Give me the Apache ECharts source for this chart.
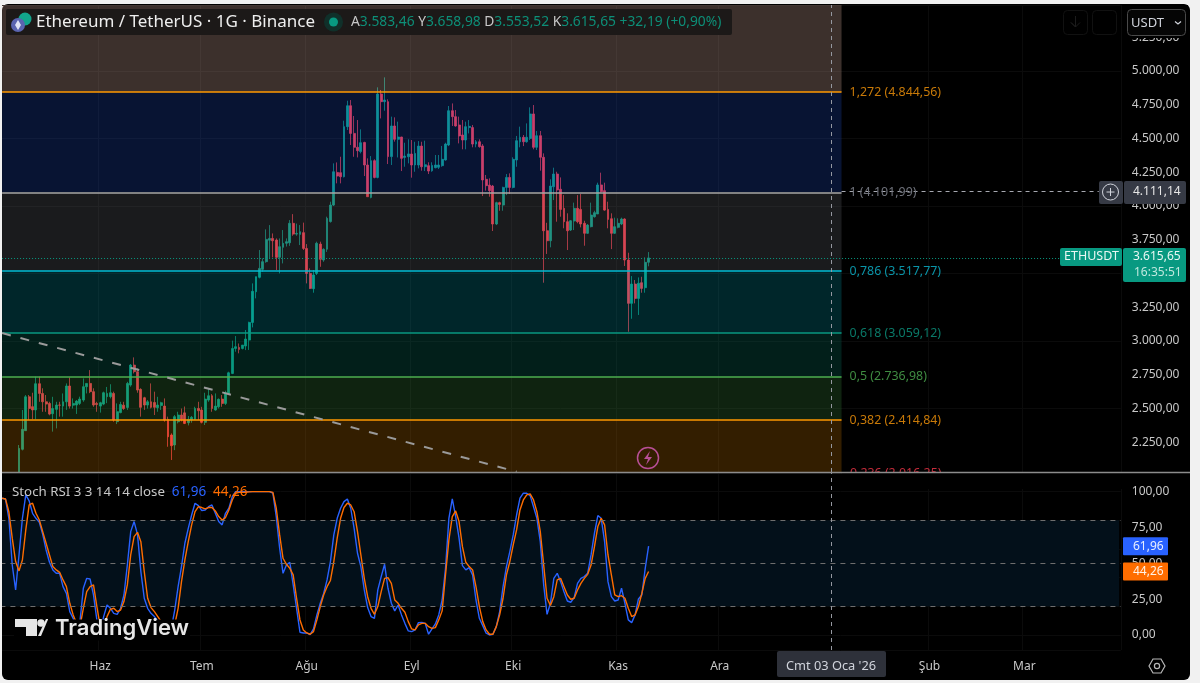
<!DOCTYPE html>
<html>
<head>
<meta charset="utf-8">
<title>ETHUSDT</title>
<script src="https://cdn.jsdelivr.net/npm/echarts@6/dist/echarts.min.js"></script>
<style>
html, body { margin: 0; padding: 0; background: #f1f1f1; overflow: hidden; }
#card { position: absolute; left: 2px; top: 4px; width: 1188px; height: 676px; background: #000; border-radius: 6px; }
#main { position: absolute; left: 0; top: 0; width: 1200px; height: 683px; }
</style>
</head>
<body>
<div id="card"></div>
<div id="main"></div>
<script>
// gunluk mumlar, 8 May - 10 Kas: [acilis, kapanis, dusuk, yuksek]
// ilk mum panelin altindan tasiyor, gorunen kismi kadar okundu
var candles = [
	[2030,2205,2030,2230],[2198,2346,2190,2489],[2336,2587,2336,2600],[2587,2501,2415,2600],[2514,2490,2420,2617],
	[2490,2684,2420,2736],[2684,2612,2550,2736],[2612,2550,2476,2650],[2550,2533,2476,2600],[2538,2459,2450,2550],
	[2462,2500,2329,2587],[2494,2526,2353,2550],[2526,2525,2440,2550],[2518,2550,2440,2612],[2550,2667,2490,2686],
	[2667,2518,2500,2730],[2525,2538,2500,2575],[2526,2555,2460,2563],[2538,2570,2526,2588],[2563,2662,2550,2723],
	[2662,2686,2612,2686],[2686,2625,2614,2785],[2625,2526,2513,2650],[2538,2530,2476,2550],
	[2518,2543,2470,2550],[2533,2617,2525,2625],[2588,2612,2540,2660],[2588,2617,2575,2680],[2612,2415,2403,2625],
	[2403,2477,2385,2538],[2470,2530,2465,2550],[2525,2500,2490,2550],[2508,2686,2490,2698],[2674,2822,2662,2830],
	[2822,2773,2760,2879],[2773,2637,2617,2797],[2642,2509,2440,2650],[2580,2526,2490,2587],[2526,2550,2500,2563],
	[2550,2509,2501,2686],[2545,2509,2452,2625],[2506,2526,2476,2587],[2523,2543,2490,2550],[2518,2415,2403,2575],
	[2420,2291,2217,2440],[2304,2225,2119,2316],[2230,2440,2192,2452],[2402,2452,2390,2476],[2452,2415,2405,2500],
	[2468,2390,2385,2515],[2395,2420,2375,2445],[2415,2435,2395,2445],[2420,2501,2415,2513],[2501,2484,2415,2550],
	[2489,2398,2390,2513],[2398,2570,2378,2617],[2563,2595,2550,2650],[2595,2501,2476,2607],[2489,2518,2484,2612],
	[2513,2568,2501,2575],[2570,2538,2513,2600],[2538,2617,2526,2632],[2607,2765,2600,2773],[2760,2945,2755,3003],
	[2945,2958,2921,3037],[2953,2938,2909,2982],[2945,2970,2938,2970],[2963,3015,2933,3082],[3007,3138,2934,3143],
	[3138,3368,3101,3427],[3365,3477,3316,3477],[3472,3538,3464,3674],[3531,3588,3513,3612],[3588,3753,3580,3827],
	[3747,3760,3612,3859],[3760,3743,3620,3797],[3748,3620,3526,3760],[3620,3699,3501,3760],[3694,3724,3575,3822],
	[3724,3736,3700,3760],[3728,3872,3705,3896],[3872,3792,3780,3940],[3792,3797,3780,3870],[3790,3810,3711,3859],
	[3803,3686,3674,3877],
	[3686,3501,3427,3718],[3501,3390,3385,3538],[3388,3489,3358,3526],[3501,3724,3489,3736],[3718,3605,3550,3736],
	[3600,3679,3587,3687],[3680,3909,3660,3921],[3885,4007,3877,4032],[4007,4254,4000,4316],[4249,4222,4168,4323],
	[4247,4217,4168,4365],[4217,4588,4212,4632],[4588,4743,4563,4780],[4743,4538,4452,4785],[4538,4435,4365,4667],
	[4435,4410,4360,4637],[4403,4469,4390,4568],[4471,4304,4222,4476],[4304,4069,4069,4353],[4064,4336,4057,4370],
	[4336,4212,4205,4346],[4212,4830,4205,4879],[4830,4773,4649,4859],[4773,4785,4706,4953],[4773,4366,4311,4790],
	[4366,4593,4304,4662],[4593,4494,4477,4657],[4494,4511,4360,4625],[4511,4353,4259,4513],[4360,4370,4291,4469],
	[4365,4386,4316,4494],
	[4385,4304,4210,4489],[4304,4390,4254,4476],[4304,4444,4279,4481],[4444,4291,4262,4476],[4291,4306,4259,4484],
	[4299,4259,4237,4324],[4261,4301,4254,4324],[4284,4304,4279,4378],[4287,4304,4274,4378],[4299,4346,4291,4445],
	[4341,4459,4336,4469],[4452,4706,4444,4741],[4706,4662,4593,4760],[4662,4593,4588,4711],[4600,4519,4464,4662],
	[4526,4489,4420,4637],[4489,4588,4420,4625],[4581,4590,4538,4637],[4581,4459,4435,4600],[4459,4476,4435,4489],
	[4476,4440,4432,4494],[4445,4193,4074,4459],[4198,4151,4114,4230],[4155,4114,4069,4205],[4148,3867,3815,4156],
	[3867,4025,3859,4032],[4025,4012,3965,4032],[4007,4138,3965,4143],[4138,4212,4081,4237],[4212,4138,4089,4242],
	[4138,4346,4131,4361],[4341,4484,4291,4519],[4476,4509,4435,4588],[4509,4476,4444,4526],[4476,4509,4469,4612],
	[4501,4682,4489,4731],[4682,4435,4420,4748],[4435,4521,4415,4556],[4521,4361,4262,4556],[4361,3817,3432,4390],
	[3817,3743,3645,3876],[3743,4148,3694,4198],[4143,4237,4044,4284],[4237,4119,3884,4254],[4124,3975,3921,4212],
	[3983,3884,3835,4081],[3884,3817,3674,3946],[3822,3891,3815,3896],[3889,3983,3822,4025],[3983,3884,3872,4081],
	[3975,3867,3842,4089],[3872,3798,3706,3891],[3798,3859,3793,3867],[3847,3933,3842,4025],[3921,3951,3914,3965],
	[3941,4156,3941,4173],[4156,4106,4099,4247],[4114,3970,3965,4173],[3975,3901,3835,4032],[3906,3798,3681,3946],
	[3798,3847,3793,3914],
	[3842,3872,3835,3909],[3867,3904,3859,3914],[3904,3600,3556,3909],[3600,3279,3069,3654],[3279,3422,3165,3481],
	[3422,3316,3279,3452],[3316,3428,3193,3471],[3432,3390,3358,3476],[3395,3583,3358,3620],[3583.46,3615.65,3553.52,3658.98]
];

// Stoch RSI, 3 May - 10 Kas
var stochK = [
	95.4,94.9,81.4,48.8,31.4,55.8,81.4,97.7,93.5,84.9,81.4,78.6,70.2,59.3,50.7,45.4,43,43,33.7,29,
	16.3,11.6,4.6,9.3,32.6,39.5,39,27.9,10.5,1.2,12.8,20.9,18.6,15.1,14.4,18.6,27.9,48.8,72.1,79.1,
	70.2,44.2,25.6,18.6,15.1,12.8,9.8,4.6,1.2,1.2,4.6,17.4,33.7,47.7,64,74.4,83.7,91.9,90.2,86.8,
	87.2,89.5,90.7,84.9,79.1,76.8,84.9,88.4,96.5,100,100,100,100,100,100,100,100,100,100,100,
	98.9,82.6,60.5,43,48.8,50.7,34.9,18.6,1.9,1.4,1.4,0.2,4.2,14,22.1,29,38.4,51.2,69.8,81.4,
	88.4,93,94.9,88.4,74.4,57,47.7,31.4,19.1,12.8,11.6,31.4,40.7,49.3,32.6,22.1,16.8,20.9,14,8.1,
	2.8,2.3,3.5,8.6,8.8,8.1,0.5,4.2,7.7,14,24.4,46.5,81.4,94.9,82.6,67.5,48.4,45.4,47,41.9,
	24.4,11.6,6.5,1.2,0,0.5,5.8,16.3,33.7,47.7,58.2,69.8,83.7,95.4,98.9,98.9,97.2,89.5,81.4,65.1,
	34.9,14.4,22.1,39.5,43,37.2,30.2,23.7,22.8,26,36,39.5,40.7,43,55.8,71,83.3,81.4,65.1,37.2,
	26.7,23.7,24.4,32.6,22.1,10.5,8.6,14,25.1,27.9,46.5,61.96
];
var stochD = [
	95.4,94.9,86,67.5,51.2,44.7,52.3,73.3,90.7,91.9,84.9,80.2,72.1,64,55.8,47.7,45.4,43.7,38.4,33.7,
	22.1,14,8.1,5.8,18.6,30.2,33.7,34.9,19.8,5.8,3.5,12.8,17.9,18.6,16.3,17.4,23.3,34.9,55.8,68.6,
	71.6,65.1,44.2,25.6,19.1,16.3,12.8,9.3,4.6,2.3,1.9,7,18.6,37.2,52.3,65.1,76.8,86,89.5,88.9,
	87.9,88.9,89,86.5,82.6,80.2,81.9,87.2,94.2,98.9,99.5,99.5,99.6,99.8,100,100,100,100,100,100,
	99.5,88.4,69.8,53.5,49.3,46.5,41.9,25.6,10.5,3.5,1.4,0.5,2.3,10.5,19.8,27.9,33.7,38,51.2,67.5,
	81.4,88.9,91.9,90.7,86,72.1,55.8,39.5,26.7,18.6,14.4,19.8,30.2,39.5,40,36,24.4,22.1,18.6,15.8,
	9.3,4.2,3.5,7,8.1,8.1,5.8,4.6,5.1,10.5,16.8,41.9,66.3,82.6,86.5,79.1,61.6,50.7,47.7,45.4,
	33.7,19.8,9.3,3.5,0.5,0.5,5.8,14,25.6,41.9,51.2,62.8,73.3,87.2,94.2,97.7,98.4,94.2,86,72.1,
	48.8,25.6,20.5,26.7,38.4,39.5,33.7,27.9,24.9,25.6,31.4,36,39.5,42.3,48.8,61.6,75.6,81.4,76.8,55.8,
	41.9,27.9,26.7,27.4,25.6,18.6,12.8,14,19.8,29,39.5,44.26
];

var fibLevels = [
	{ ratio: '1,272', value: 4844.56, color: '#ff9800', text: '#c97a08' },
	{ ratio: '1', value: 4101.99, color: '#a6a6a6', text: '#6f727b' },
	{ ratio: '0,786', value: 3517.77, color: '#00bcd4', text: '#0a94a8' },
	{ ratio: '0,618', value: 3059.12, color: '#089981', text: '#0a7a69' },
	{ ratio: '0,5', value: 2736.98, color: '#4caf50', text: '#3f8c42' },
	{ ratio: '0,382', value: 2414.84, color: '#ff9800', text: '#c97a08' }
];
var fibBottom = { ratio: '0,236', value: 2016.25, text: '#c42b3a' };
var fibFills = ['rgba(41,98,255,.2)', 'rgba(120,123,134,.22)', 'rgba(0,188,212,.2)', 'rgba(8,153,129,.2)', 'rgba(76,175,80,.2)', 'rgba(255,152,0,.2)'];

// kesikli trend cizgisi: [gun, fiyat]
var trendStart = [0, 3059], trendEnd = [152, 2032];

var priceTicks = [2250, 2500, 2750, 3000, 3250, 3500, 3750, 4000, 4250, 4500, 4750, 5000, 5250];
var stochTicks = [0, 25, 50, 75, 100];
var monthLabels = { 29: 'Haz', 59: 'Tem', 90: 'Ağu', 121: 'Eyl', 151: 'Eki', 182: 'Kas', 212: 'Ara', 274: 'Şub', 302: 'Mar' };
var headerValues = { A: '3.583,46', Y: '3.658,98', D: '3.553,52', K: '3.615,65', change: '+32,19 (+0,90%)' };
var lastPrice = 3615.65, crossPrice = 4111.14, crossDay = 245, bandEnd = 248, lastDay = 330;

var categories = [];
for (var i = 0; i <= lastDay; i++) {
	categories.push(new Date(2025, 4, 3 + i).toISOString().slice(0, 10));
}
var candleRows = ['-', '-', '-', '-', '-'].concat(candles);

var FONT = '"Noto Sans", sans-serif';

function trNum(v) {
	var s = v.toFixed(2).split('.');
	return s[0].replace(/\B(?=(\d{3})+$)/g, '.') + ',' + s[1];
}

// fib seviyeleri arasi dolgular
var fibAreas = [[{ coord: [0, 5489], itemStyle: { color: 'rgba(240,192,176,.25)' } }, { coord: [bandEnd, fibLevels[0].value] }]];
for (var a = 0; a < fibLevels.length; a++) {
	var lower = a + 1 < fibLevels.length ? fibLevels[a + 1].value : 2030;
	fibAreas.push([{ coord: [0, fibLevels[a].value], itemStyle: { color: fibFills[a] } }, { coord: [bandEnd, lower] }]);
}

var fibLines = fibLevels.map(function (l) {
	return [{
		coord: [0, l.value],
		lineStyle: { color: l.color, width: 1.5, type: 'solid' },
		label: {
			show: true, position: 'end', distance: 8, color: l.text, fontFamily: FONT, fontSize: 12.4,
			formatter: l.ratio + ' (' + trNum(l.value) + ')'
		}
	}, { coord: [bandEnd, l.value] }];
});
// son fiyat, crosshair ve trend
fibLines.push([{ coord: [0, lastPrice], lineStyle: { color: '#089981', width: 1, type: [1, 2] }, label: { show: false } }, { coord: [313, lastPrice] }]);
fibLines.push([{ coord: [bandEnd, crossPrice], lineStyle: { color: '#a6a8b0', width: 1, type: [4, 4] }, label: { show: false } }, { coord: [324, crossPrice] }]);
fibLines.push([{ coord: [crossDay, 2030], lineStyle: { color: '#9598a1', width: 1, type: [4, 4] }, label: { show: false } }, { coord: [crossDay, 5489] }]);
fibLines.push([{ coord: trendStart, lineStyle: { color: '#9a9a9a', width: 2, type: [9, 10] }, label: { show: false } }, { coord: trendEnd }]);

var myChart = echarts.init(document.getElementById('main'), null, { renderer: 'canvas' });
var option = {
	animation: false,
	backgroundColor: 'transparent',
	grid: [
		{ left: 0.4, top: 5, width: 1120.4, height: 467 },
		{ left: 0.4, top: 473, width: 1120.4, height: 177 }
	],
	xAxis: [
		{
			type: 'category', gridIndex: 0, data: categories, boundaryGap: true,
			axisLine: { show: false }, axisTick: { show: false }, axisLabel: { show: false },
			splitLine: { show: true, interval: function (i) { return monthLabels[i] != null; }, lineStyle: { color: '#0b0b0b' } }
		},
		{
			type: 'category', gridIndex: 1, data: categories, boundaryGap: true,
			axisLine: { show: false }, axisTick: { show: false },
			splitLine: { show: true, interval: function (i) { return monthLabels[i] != null; }, lineStyle: { color: '#0b0b0b' } },
			axisLabel: {
				color: '#c8c8c8', fontFamily: FONT, fontSize: 12, margin: 11, hideOverlap: false,
				interval: function (i) { return monthLabels[i] != null; },
				formatter: function (v, i) { return monthLabels[i] || ''; }
			}
		}
	],
	yAxis: [
		{
			type: 'value', gridIndex: 0, position: 'right', min: 2030, max: 5489,
			axisLine: { show: false }, axisTick: { show: false },
			splitLine: { show: true, lineStyle: { color: '#0b0b0b' } },
			axisLabel: { customValues: priceTicks, color: '#c8c8c8', fontFamily: FONT, fontSize: 12, margin: 11, formatter: trNum }
		},
		{
			type: 'value', gridIndex: 1, position: 'right', min: -10.5, max: 113,
			axisLine: { show: false }, axisTick: { show: false },
			splitLine: { show: true, lineStyle: { color: '#0b0b0b' } },
			axisLabel: { customValues: stochTicks, color: '#c8c8c8', fontFamily: FONT, fontSize: 12, margin: 11, formatter: trNum }
		}
	],
	series: [
		{
			name: 'ETHUSDT', type: 'candlestick', xAxisIndex: 0, yAxisIndex: 0,
			data: candleRows, barWidth: 2.4, clip: true,
			itemStyle: {
				color: '#089981', color0: '#f23645',
				borderColor: 'rgba(8,153,129,.75)', borderColor0: 'rgba(242,54,69,.75)', borderWidth: 1
			},
			markArea: { silent: true, z: 3, data: fibAreas },
			markLine: { silent: true, z: 5, symbol: 'none', animation: false, data: fibLines }
		},
		{
			name: 'K', type: 'line', xAxisIndex: 1, yAxisIndex: 1, data: stochK,
			showSymbol: false, lineStyle: { color: '#2962ff', width: 1.4 },
			markArea: {
				silent: true,
				data: [[{ coord: [0, 80], itemStyle: { color: '#03101a' } }, { coord: [lastDay, 20] }]]
			},
			markLine: {
				silent: true, symbol: 'none', animation: false, label: { show: false },
				lineStyle: { color: '#6e6e6e', width: 1, type: [5, 5] },
				data: [{ yAxis: 80 }, { yAxis: 50 }, { yAxis: 20 }, { xAxis: crossDay, lineStyle: { color: '#9598a1', type: [4, 4] } }]
			}
		},
		{
			name: 'D', type: 'line', xAxisIndex: 1, yAxisIndex: 1, data: stochD,
			showSymbol: false, lineStyle: { color: '#ff6d00', width: 1.4 }
		}
	]
};
myChart.setOption(option);

// fiyat etiketleri eksene gore konumlanir
function py(v) { return myChart.convertToPixel({ yAxisIndex: 0 }, v); }
function sy(v) { return myChart.convertToPixel({ yAxisIndex: 1 }, v); }
function rect(x, y, w, h, fill, r, z, stroke) {
	return { type: 'rect', silent: true, z: z || 20, shape: { x: x, y: y, width: w, height: h, r: r || 0 }, style: { fill: fill, stroke: stroke || null } };
}
function txt(x, y, s, color, size, z, extra) {
	var st = { x: x, y: y, text: s, fill: color, font: (size || 12) + 'px ' + FONT, textVerticalAlign: 'middle', textAlign: 'left' };
	for (var k in (extra || {})) st[k] = extra[k];
	return { type: 'text', silent: true, z: z || 21, style: st };
}

var lastK = stochK[stochK.length - 1], lastD = stochD[stochD.length - 1];
var lastY = py(lastPrice), crossY = py(crossPrice);
var headerRich = {
	l: { fill: '#c8c8c8', font: '13.8px ' + FONT },
	v: { fill: '#0d8f78', font: '13.8px ' + FONT }
};
var graphics = [
	// kart kenari: grid cizgileri sola tasmasin
	rect(0, 0, 2, 683, '#f1f1f1', 0, 40),

	// 0,236 etiketi panelin altinda kesilir
	txt(850, py(fibBottom.value), fibBottom.ratio + ' (' + trNum(fibBottom.value) + ')', fibBottom.text, 12.4, 10),
	rect(842, 473, 280, 16, '#000', 0, 11),
	{ type: 'line', silent: true, z: 12, shape: { x1: 2, y1: 472.5, x2: 1190, y2: 472.5 }, style: { stroke: '#8c8c8c', lineWidth: 1.5 } },

	// baslik
	rect(6, 9, 726, 26, '#1c1918', 2, 20),
	{ type: 'circle', silent: true, z: 21, shape: { cx: 25, cy: 19, r: 6.5 }, style: { fill: '#12a58c' } },
	{ type: 'circle', silent: true, z: 22, shape: { cx: 18, cy: 25, r: 7 }, style: { fill: '#5a64b0' } },
	{ type: 'polygon', silent: true, z: 23, shape: { points: [[18, 20], [21, 25], [18, 30], [15, 25]] }, style: { fill: '#dfe3f5' } },
	txt(36, 22, 'Ethereum / TetherUS · 1G · Binance', '#eeeeee', 17),
	{ type: 'circle', silent: true, z: 21, shape: { cx: 333.5, cy: 22, r: 9.5 }, style: { fill: '#10302a' } },
	{ type: 'circle', silent: true, z: 22, shape: { cx: 333.5, cy: 22, r: 4.5 }, style: { fill: '#089981' } },
	txt(351, 22, '{l|A}{v|' + headerValues.A + '} {l|Y}{v|' + headerValues.Y + '} {l|D}{v|' + headerValues.D + '} {l|K}{v|' + headerValues.K + '} {v|' + headerValues.change + '}', '#c8c8c8', 13.8, 21, { rich: headerRich }),

	// sag ust dugmeler
	rect(1122, 5, 66, 33, '#000', 0, 19),
	rect(1063.5, 10.5, 24, 24, 'none', 4, 20, '#111'),
	{ type: 'polyline', silent: true, z: 21, shape: { points: [[1075.5, 16], [1075.5, 27], [1071, 22.5], [1075.5, 27], [1080, 22.5]] }, style: { stroke: '#1c1c1c', fill: 'none' } },
	rect(1092.5, 10.5, 24, 24, 'none', 4, 20, '#111'),
	rect(1127.5, 9.5, 58, 26, '#050505', 4, 20, '#4a4a4a'),
	txt(1131, 23, 'USDT', '#d1d4dc', 13),
	{ type: 'polyline', silent: true, z: 21, shape: { points: [[1175, 21.5], [1178, 24], [1181, 21.5]] }, style: { stroke: '#d1d4dc', fill: 'none', lineWidth: 1.2 } },

	// crosshair etiketi
	rect(1099, 181, 24, 23, '#363a45', 2, 20),
	rect(1124, 181, 62, 23, '#363a45', 2, 20),
	{ type: 'circle', silent: true, z: 21, shape: { cx: 1110.5, cy: crossY + 1, r: 8 }, style: { fill: 'none', stroke: '#d1d4dc', lineWidth: 1 } },
	{ type: 'polyline', silent: true, z: 21, shape: { points: [[1106.5, crossY + 1], [1114.5, crossY + 1]] }, style: { stroke: '#d1d4dc' } },
	{ type: 'polyline', silent: true, z: 21, shape: { points: [[1110.5, crossY - 3], [1110.5, crossY + 5]] }, style: { stroke: '#d1d4dc' } },
	txt(1133, crossY + 1, trNum(crossPrice), '#e6e6e6', 12),

	// son fiyat
	rect(1060, lastY - 10, 62, 18, '#089981', 2, 20),
	txt(1064, lastY - 1, 'ETHUSDT', '#e8f7f3', 12.5),
	rect(1123, lastY - 10, 63, 34, '#089981', 2, 20),
	txt(1133, lastY - 1, trNum(lastPrice), '#e8f7f3', 12),
	txt(1134, lastY + 15, '16:35:51', '#bfe8de', 12),

	// stoch
	txt(12, 492, '{t|Stoch RSI 3 3 14 14 close}  {k|' + trNum(lastK) + '}  {d|' + trNum(lastD) + '}', '#c8c8c8', 13, 21, {
		rich: {
			t: { fill: '#c8c8c8', font: '13.3px ' + FONT },
			k: { fill: '#2962ff', font: '13.5px ' + FONT },
			d: { fill: '#ff6d00', font: '13.5px ' + FONT }
		}
	}),
	rect(1123, sy(lastK) - 9, 45, 18, '#2962ff', 1, 20),
	txt(1133, sy(lastK), trNum(lastK), '#e8eeff', 12),
	rect(1123, sy(lastD) - 9, 45, 18, '#ff6d00', 1, 20),
	txt(1133, sy(lastD), trNum(lastD), '#fff1e6', 12),

	// tarih etiketi
	rect(777, 651, 109, 26, '#2e313a', 2, 20),
	txt(786, 666, "Cmt 03 Oca '26", '#d1d4dc', 12.8),

	// ayar simgesi
	{ type: 'polygon', silent: true, z: 21, shape: { points: [[1149, 666], [1153, 659], [1161, 659], [1165, 666], [1161, 673], [1153, 673]] }, style: { fill: 'none', stroke: '#b8b8b8', lineWidth: 1.2 } },
	{ type: 'circle', silent: true, z: 21, shape: { cx: 1157, cy: 666, r: 2.6 }, style: { fill: 'none', stroke: '#b8b8b8', lineWidth: 1.2 } },

	// simsek
	{ type: 'circle', silent: true, z: 21, shape: { cx: 648, cy: 458, r: 10.5 }, style: { fill: 'none', stroke: '#b84f96', lineWidth: 1.5 } },
	{ type: 'polygon', silent: true, z: 22, shape: { points: [[650, 451], [644, 459], [648, 459], [646, 465], [652, 457], [648, 457]] }, style: { fill: '#b84f96' } },

	// TradingView logosu, arkasi siyah
	rect(14, 619.5, 176, 21, '#000', 3, 29),
	{ type: 'polygon', silent: true, z: 30, shape: { points: [[15, 619], [37, 619], [37, 636], [26, 636], [26, 627], [15, 627]] }, style: { fill: '#e6e6e6' } },
	{ type: 'circle', silent: true, z: 30, shape: { cx: 41, cy: 623, r: 3.8 }, style: { fill: '#e6e6e6' } },
	{ type: 'polygon', silent: true, z: 30, shape: { points: [[38, 636], [46, 619], [48, 619], [48, 619.5], [41, 636]] }, style: { fill: '#e6e6e6' } },
	{ type: 'text', silent: true, z: 30, style: { x: 55, y: 628, text: 'TradingView', fill: '#e6e6e6', font: '600 22px Inter, sans-serif', textVerticalAlign: 'middle' } }
];
myChart.setOption({ graphic: { elements: graphics } });
</script>
</body>
</html>
